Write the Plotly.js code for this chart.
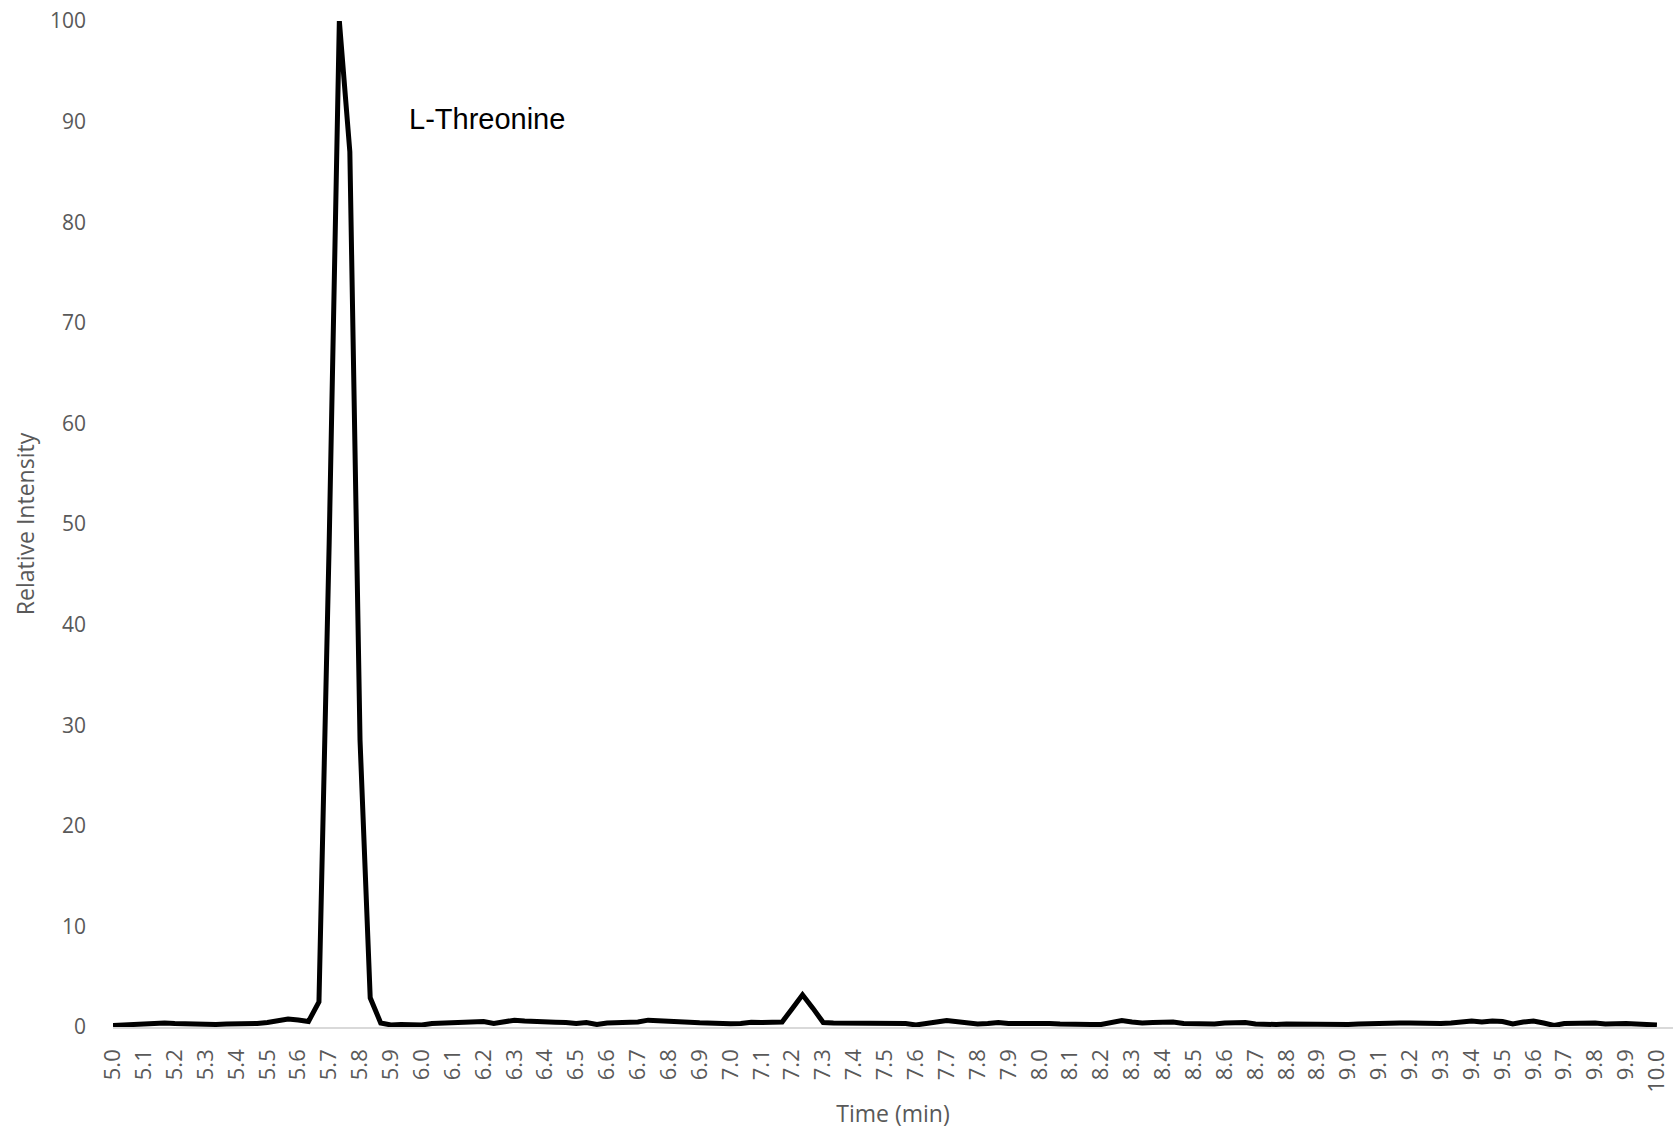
<!DOCTYPE html>
<html>
<head>
<meta charset="utf-8">
<script src="https://cdn.plot.ly/plotly-3.0.1.min.js"></script>
<style>html,body{margin:0;padding:0;background:#fff;}#chart{width:1673px;height:1129px;}</style>
</head>
<body>
<div id="chart"></div>
<script>
const timeMin = [
  5.000,5.033,5.067,5.100,5.133,5.167,5.200,5.233,5.267,5.300,
  5.333,5.367,5.400,5.433,5.467,5.500,5.533,5.567,5.600,5.633,
  5.667,5.700,5.733,5.767,5.800,5.833,5.867,5.900,5.933,5.967,
  6.000,6.033,6.067,6.100,6.133,6.167,6.200,6.233,6.267,6.300,
  6.333,6.367,6.400,6.433,6.467,6.500,6.533,6.567,6.600,6.633,
  6.667,6.700,6.733,6.767,6.800,6.833,6.867,6.900,6.933,6.967,
  7.000,7.033,7.067,7.100,7.133,7.167,7.200,7.233,7.267,7.300,
  7.333,7.367,7.400,7.433,7.467,7.500,7.533,7.567,7.600,7.633,
  7.667,7.700,7.733,7.767,7.800,7.833,7.867,7.900,7.933,7.967,
  8.000,8.033,8.067,8.100,8.133,8.167,8.200,8.233,8.267,8.300,
  8.333,8.367,8.400,8.433,8.467,8.500,8.533,8.567,8.600,8.633,
  8.667,8.700,8.733,8.767,8.800,8.833,8.867,8.900,8.933,8.967,
  9.000,9.033,9.067,9.100,9.133,9.167,9.200,9.233,9.267,9.300,
  9.333,9.367,9.400,9.433,9.467,9.500,9.533,9.567,9.600,9.633,
  9.667,9.700,9.733,9.767,9.800,9.833,9.867,9.900,9.933,9.967,
  10.000
];
const relIntensity = [
  0.15,0.2,0.3,0.4,0.45,0.4,0.35,0.3,0.3,0.3,
  0.25,0.3,0.3,0.3,0.35,0.45,0.6,0.8,0.7,0.55,
  2.5,48,100,87,28.5,2.9,0.4,0.2,0.25,0.2,
  0.2,0.35,0.4,0.5,0.55,0.6,0.55,0.35,0.55,0.68,
  0.6,0.52,0.5,0.48,0.45,0.35,0.45,0.25,0.4,0.4,
  0.42,0.5,0.68,0.6,0.52,0.5,0.48,0.42,0.35,0.33,
  0.33,0.35,0.48,0.45,0.42,0.5,1.85,3.2,1.85,0.45,
  0.4,0.38,0.45,0.42,0.35,0.3,0.25,0.35,0.2,0.3,
  0.5,0.65,0.5,0.35,0.3,0.35,0.45,0.35,0.35,0.45,
  0.45,0.35,0.3,0.25,0.25,0.25,0.25,0.45,0.65,0.5,
  0.4,0.45,0.5,0.5,0.35,0.3,0.28,0.3,0.4,0.48,
  0.45,0.3,0.25,0.25,0.3,0.28,0.25,0.3,0.3,0.28,
  0.25,0.3,0.35,0.3,0.4,0.4,0.4,0.35,0.3,0.35,
  0.4,0.5,0.6,0.5,0.6,0.55,0.3,0.5,0.6,0.4,
  0.15,0.35,0.4,0.35,0.4,0.3,0.35,0.35,0.3,0.25,
  0.2
];
const xTitle = 'Time (min)';
const yTitle = 'Relative Intensity';
const peakLabel = 'L-Threonine';
const peakLabelPos = {x: 5.952, y: 90.3};

const fam = 'Open Sans, sans-serif';

Plotly.newPlot('chart', [{
  x: timeMin,
  y: relIntensity,
  type: 'scatter',
  mode: 'lines',
  line: {color: '#000000', width: 5},
  hoverinfo: 'x+y'
}], {
  width: 1673,
  height: 1129,
  paper_bgcolor: '#ffffff',
  plot_bgcolor: '#ffffff',
  showlegend: false,
  margin: {l: 113, r: 0, t: 21, b: 102},
  xaxis: {
    range: [5, 10.052],
    tick0: 5,
    dtick: 0.1,
    tickformat: '.1f',
    tickangle: -90,
    ticks: '',
    ticklabelstandoff: 12,
    showgrid: false,
    zeroline: false,
    showline: true,
    linecolor: '#d9d9d9',
    linewidth: 1.5,
    tickfont: {family: fam, size: 22, color: '#595959'},
    automargin: false,
    title: {text: xTitle, font: {family: fam, size: 23, color: '#595959'}, standoff: 14}
  },
  yaxis: {
    range: [0, 100],
    tick0: 0,
    dtick: 10,
    ticks: '',
    ticklabelstandoff: 26,
    showgrid: false,
    zeroline: false,
    showline: false,
    tickfont: {family: fam, size: 21, color: '#595959'},
    automargin: false,
    title: {text: yTitle, font: {family: fam, size: 23, color: '#595959'}, standoff: 8}
  },
  annotations: [{
    x: peakLabelPos.x, y: peakLabelPos.y, xref: 'x', yref: 'y',
    text: peakLabel, showarrow: false, xanchor: 'left', yanchor: 'middle',
    font: {family: 'Liberation Sans, Arial, sans-serif', size: 29, color: '#000000'}
  }]
}, {displayModeBar: false, staticPlot: true});
</script>
</body>
</html>
